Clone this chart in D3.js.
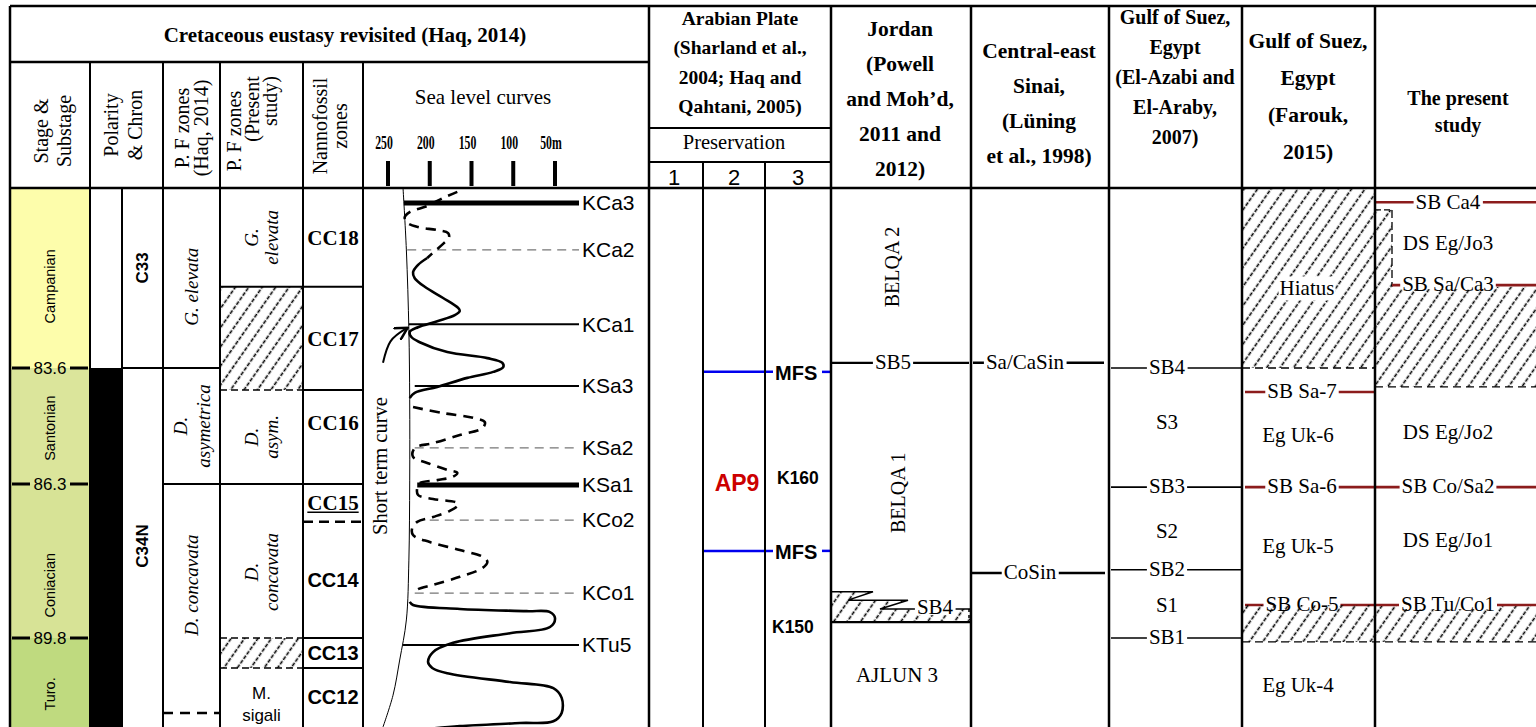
<!DOCTYPE html>
<html>
<head>
<meta charset="utf-8">
<title>Cretaceous eustasy correlation</title>
<script src="https://cdn.jsdelivr.net/npm/d3@7"></script>
<style>
  body { margin: 0; background: #fff; }
  svg { display: block; }
  text { font-family: "Liberation Serif", "Times New Roman", serif; fill: #000; }
  text.sans { font-family: "Liberation Sans", Arial, sans-serif; }
</style>
</head>
<body>
<svg id="chart"></svg>
<script>
'use strict';

// ages in Ma, sea level in metres
const ageBreaks = [79.41, 83.6, 86.3, 89.8, 91.82];
const ageTicks = [83.6, 86.3, 89.8];

const stageNames = ['Campanian', 'Santonian', 'Coniacian', 'Turo.'];
const stageBounds = [79.41, 83.6, 86.3, 89.8, 91.82];
const stageLabelAt = [81.7, 85.0, 88.6, 91.07];

const chronNames = ['C33', 'C34N'];
const chronBounds = [79.41, 83.6, 91.82];
const chronPolarity = ['R', 'N'];
const chronLabelAt = [81.27, 87.71];

const pfHaqZones = [
  { lines: ['G. elevata'], top: 79.41, base: 83.6, at: 81.71 },
  { lines: ['D.', 'asymetrica'], top: 83.6, base: 86.3 },
  { lines: ['D. concavata'], top: 86.3, base: 91.5, at: 88.6 }
];

const pfPresentZones = [
  { lines: ['G.', 'elevata'], top: 79.41, base: 81.71 },
  { hiatus: 'base', top: 81.71, base: 84.11 },
  { lines: ['D.', 'asym.'], top: 84.11, base: 86.3 },
  { lines: ['D.', 'concavata'], top: 86.3, base: 89.8, at: 88.3 },
  { hiatus: 'both', top: 89.8, base: 90.48 },
  { lines: ['M.', 'sigali'], top: 90.48, base: 91.82, upright: true, at: 91.05 }
];

const nannoZones = [
  { name: 'CC18', top: 79.41, base: 81.71 },
  { name: 'CC17', top: 81.71, base: 84.11 },
  { name: 'CC16', top: 84.11, base: 86.3, at: 84.88 },
  { name: 'CC15', top: 86.3, base: 87.16 },
  { name: 'CC14', top: 87.16, base: 89.8 },
  { name: 'CC13', top: 89.8, base: 90.48 },
  { name: 'CC12', top: 90.48, base: 91.82 }
];

const seaLevelTicks = [250, 200, 150, 100, 50];
const sbNames = ['KCa3', 'KCa2', 'KCa1', 'KSa3', 'KSa2', 'KSa1', 'KCo2', 'KCo1', 'KTu5'];
const sbAges = [79.76, 80.85, 82.58, 84.02, 85.46, 86.32, 87.12, 88.78, 89.96];
const sbRank = ['major', 'minor', 'medium', 'medium', 'minor', 'major', 'minor', 'minor', 'medium'];
const sbFrom = [231, 227, 225, 218, 218, 215, 200, 218, 232];

// short term curve [sea level m, age Ma]
const shortTermSegments = [
  { dashed: true, pts: [[167, 79.50], [184, 79.64], [203, 79.83], [224, 79.97], [230, 80.09], [227, 80.22], [214, 80.32], [191, 80.39], [178, 80.46], [177, 80.57], [184, 80.71], [194, 80.88], [203, 81.04]] },
  { dashed: false, pts: [[203, 81.04], [214, 81.20], [220, 81.37], [218, 81.51], [206, 81.71], [184, 81.97], [166, 82.20], [164, 82.27], [170, 82.37], [191, 82.51], [214, 82.65], [224, 82.76], [222, 82.88], [212, 83.00], [179, 83.23], [131, 83.37], [113, 83.48], [112, 83.58], [124, 83.69], [155, 83.83], [191, 84.04], [218, 84.18], [224, 84.30]] },
  { dashed: true, pts: [[220, 84.51], [184, 84.65], [148, 84.76], [134, 84.86], [137, 85.00], [164, 85.16], [196, 85.35], [218, 85.46], [220, 85.67], [203, 85.81], [179, 85.97], [167, 86.04], [172, 86.13], [191, 86.21], [212, 86.28], [215, 86.39], [214, 86.55], [196, 86.64], [167, 86.73], [166, 86.78], [176, 86.91], [196, 87.05], [215, 87.16], [221, 87.30], [220, 87.46], [200, 87.62], [164, 87.80], [136, 87.96], [131, 88.07], [137, 88.21], [164, 88.41], [196, 88.59], [215, 88.70], [218, 88.77]] },
  { dashed: false, pts: [[224, 88.98], [220, 89.05], [164, 89.14], [84, 89.19], [56, 89.21], [50, 89.35], [56, 89.55], [104, 89.69], [172, 89.91], [196, 90.12], [202, 90.35], [197, 90.48], [179, 90.60], [104, 90.80], [52, 90.94], [42, 91.16], [42, 91.50], [52, 91.69], [92, 91.73], [164, 91.80], [200, 91.86]] }
];
const longTermCurve = [[232, 79.41], [228, 80.85], [225, 82.72], [224, 84.34], [224, 86.21], [225, 88.03], [228, 89.39], [236, 90.30], [244, 91.10], [256, 91.82]];
const arrowPts = [[256, 83.48], [247, 82.98], [228, 82.68]];

const preservationCols = ['1', '2', '3'];
const mfsAges = [83.69, 87.82];
const apSequence = { name: 'AP9', at: 86.28 };
const kSurfaces = [{ name: 'K160', at: 86.16 }, { name: 'K150', at: 89.55 }];

const jordanUnits = [{ name: 'BELQA 2', at: 81.25, vertical: true }, { name: 'BELQA 1', at: 86.5, vertical: true }, { name: 'AJLUN 3', at: 90.64 }];
const jordanSurfaces = [{ name: 'SB5', age: 83.48 }];
const jordanHiatus = { name: 'SB4', top: 88.75, mid: 88.94, low: 89.14, base: 89.44 };

const sinaiSurfaces = [{ name: 'Sa/CaSin', age: 83.48 }, { name: 'CoSin', age: 88.32 }];

const azabiSurfaces = [{ name: 'SB4', age: 83.6 }, { name: 'SB3', age: 86.37 }, { name: 'SB2', age: 88.25 }, { name: 'SB1', age: 89.8 }];
const azabiSequences = [{ name: 'S3', at: 84.86 }, { name: 'S2', at: 87.35 }, { name: 'S1', at: 89.05 }];

const faroukHiatus = [{ top: 79.41, base: 83.6, label: 'Hiatus', at: 81.74 }];
const faroukSurfaces = [{ name: 'SB Sa-7', age: 84.16 }, { name: 'SB Sa-6', age: 86.37 }, { name: 'SB Co-5', age: 89.05 }];
const faroukUnits = [{ name: 'Eg Uk-6', at: 85.16 }, { name: 'Eg Uk-5', at: 87.69 }, { name: 'Eg Uk-4', at: 90.87 }];

const studySurfaces = [{ name: 'SB Ca4', age: 79.74 }, { name: 'SB Sa/Ca3', age: 81.67 }, { name: 'SB Co/Sa2', age: 86.37 }, { name: 'SB Tu/Co1', age: 89.05 }];
const studyUnits = [{ name: 'DS Eg/Jo3', at: 80.69 }, { name: 'DS Eg/Jo2', at: 85.09 }, { name: 'DS Eg/Jo1', at: 87.57 }];
const studyHiatus = [{ top: 79.92, base: 81.71, narrow: true }, { top: 81.71, base: 84.04 }];
const sharedHiatus = { top: 89.05, base: 89.89 };

// ---------------------------------------------------------------------------
const W = 1536, H = 727;
const C = { left: 10, stage: 90, pol: 122, chron: 163, pfHaq: 220, pfPres: 303, nanno: 363, sea: 649,
  p1: 703, p2: 765, arab: 831, jordan: 971, sinai: 1109, azabi: 1242, farouk: 1375, strip: 1392, right: 1536 };
const topY = 6, titleY = 62, headY = 188;
const red = '#8c1c1c';

const svg = d3.select('#chart').attr('width', W).attr('height', H);

const y = d3.scaleLinear().domain(ageBreaks).range([headY, 368, 484, 638, H]);
const x = d3.scaleLinear().domain([250, 50]).range([388, 555]);

const stageColor = d3.scaleOrdinal().domain(stageNames).range(['#fdfdab', '#dbe59b', '#d7e396', '#bfda7f']);

const defs = svg.append('defs');
const hatch = defs.append('pattern').attr('id', 'hatch')
  .attr('patternUnits', 'userSpaceOnUse').attr('width', 11).attr('height', 11)
  .attr('patternTransform', 'rotate(35)');
hatch.append('line').attr('x1', 5.5).attr('x2', 5.5).attr('y1', 0).attr('y2', 11)
  .attr('stroke', '#000').attr('stroke-width', 1.6).attr('stroke-dasharray', '4 1.5');
defs.append('marker').attr('id', 'arrow').attr('viewBox', '0 0 10 10')
  .attr('refX', 8).attr('refY', 5).attr('markerWidth', 7).attr('markerHeight', 7).attr('orient', 'auto')
  .append('path').attr('d', 'M0,0 L9,5 L0,10').attr('fill', 'none').attr('stroke', '#000').attr('stroke-width', 1.8);
defs.append('clipPath').attr('id', 'seaClip').append('rect')
  .attr('x', C.nanno).attr('y', headY).attr('width', C.sea - C.nanno).attr('height', H - headY);

function hline(g, x1, x2, yy, o = {}) {
  return g.append('line').attr('x1', x1).attr('x2', x2).attr('y1', yy).attr('y2', yy)
    .attr('stroke', o.color || '#000').attr('stroke-width', o.w || 2)
    .attr('stroke-dasharray', o.dash || null);
}
function vline(g, xx, y1, y2, o = {}) {
  return g.append('line').attr('x1', xx).attr('x2', xx).attr('y1', y1).attr('y2', y2)
    .attr('stroke', o.color || '#000').attr('stroke-width', o.w || 2)
    .attr('stroke-dasharray', o.dash || null);
}
function label(g, txt, xx, yy, o = {}) {
  return g.append('text').attr('x', xx).attr('y', yy).attr('dy', '0.35em')
    .attr('text-anchor', o.anchor || 'middle')
    .attr('font-size', o.size || 21)
    .attr('font-weight', o.bold ? 'bold' : null)
    .attr('font-style', o.italic ? 'italic' : null)
    .attr('class', o.sans ? 'sans' : null)
    .style('fill', o.color || null)
    .text(txt);
}
// multi-line text; (cx, first) is the centre of the first line
function lines(g, arr, cx, first, lh, o = {}) {
  const cy = first + (o.rotate ? 0 : (arr.length - 1) * lh / 2);
  const t = g.append('text').attr('text-anchor', 'middle')
    .attr('font-size', o.size || 21)
    .attr('font-weight', o.bold ? 'bold' : null)
    .attr('font-style', o.italic ? 'italic' : null)
    .attr('class', o.sans ? 'sans' : null);
  if (o.rotate) t.attr('transform', `translate(${cx},${cy}) rotate(-90)`);
  else t.attr('transform', `translate(${cx},${cy})`);
  arr.forEach((s, i) => t.append('tspan').attr('x', 0)
    .attr('y', (i - (arr.length - 1) / 2) * lh).attr('dy', '0.35em').text(s));
  return t;
}
function whiteBehind(g, t, pad, yy, half) {
  const bb = t.node().getBBox();
  g.insert('rect', () => t.node())
    .attr('x', bb.x - pad).attr('width', bb.width + 2 * pad)
    .attr('y', half ? yy - half : bb.y).attr('height', half ? 2 * half : bb.height)
    .attr('fill', '#fff');
}
function surface(g, name, x1, x2, cx, yy, o = {}) {
  hline(g, x1, x2, yy, o);
  const t = label(g, name, cx, yy - 1, { size: 21 });
  whiteBehind(g, t, 2, yy, 4);
}
function hatchBox(g, x1, x2, y1, y2) {
  g.append('rect').attr('x', x1).attr('width', x2 - x1).attr('y', y1).attr('height', y2 - y1)
    .attr('fill', 'url(#hatch)');
}

// ---- stage column
const gStage = svg.append('g');
stageNames.forEach((s, i) => {
  gStage.append('rect').attr('x', C.left + 1).attr('width', C.stage - C.left - 1)
    .attr('y', y(stageBounds[i])).attr('height', y(stageBounds[i + 1]) - y(stageBounds[i]))
    .attr('fill', stageColor(s));
  lines(gStage, [s], 50, y(stageLabelAt[i]), 0, { sans: true, size: 14.5, rotate: true });
});
ageTicks.forEach(a => {
  hline(gStage, 12, 30, y(a), { w: 3 });
  hline(gStage, 70, 88, y(a), { w: 3 });
  label(gStage, a.toFixed(1), 50, y(a), { sans: true, size: 17 });
});

// ---- polarity & chron
const gPol = svg.append('g');
chronNames.forEach((c, i) => {
  gPol.append('rect').attr('x', C.stage).attr('width', C.pol - C.stage)
    .attr('y', y(chronBounds[i])).attr('height', y(chronBounds[i + 1]) - y(chronBounds[i]))
    .attr('fill', chronPolarity[i] === 'N' ? '#000' : '#fff');
  lines(gPol, [c], 142, y(chronLabelAt[i]), 0, { sans: true, bold: true, size: 17, rotate: true });
  if (i > 0) hline(gPol, C.pol, C.chron, y(chronBounds[i]));
});

// ---- planktonic foram zones (Haq)
const gHaq = svg.append('g');
pfHaqZones.forEach((z, i) => {
  const mid = y(z.at != null ? z.at : (z.top + z.base) / 2);
  lines(gHaq, z.lines, 191.5, mid, 23, { italic: true, size: 19, rotate: true });
  const last = i === pfHaqZones.length - 1;
  hline(gHaq, C.chron, C.pfHaq, y(z.base), last ? { dash: '10 7', w: 2.5 } : {});
});

// ---- planktonic foram zones (present study)
const gPres = svg.append('g');
pfPresentZones.forEach((z, i) => {
  const next = pfPresentZones[i + 1];
  if (z.hiatus) {
    hatchBox(gPres, C.pfHaq + 1, C.pfPres - 1, y(z.top), y(z.base));
    hline(gPres, C.pfHaq, C.pfPres, y(z.base), { dash: '7 4', w: 1.5 });
    if (z.hiatus === 'both') hline(gPres, C.pfHaq, C.pfPres, y(z.top), { dash: '7 4', w: 1.5 });
    return;
  }
  const mid = y(z.at != null ? z.at : (z.top + z.base) / 2);
  if (z.upright) lines(gPres, z.lines, 261.5, mid, 22, { sans: true, size: 17, rotate: false });
  else lines(gPres, z.lines, 261.5, mid, 20, { italic: true, size: 19, rotate: true });
  if (next && next.hiatus !== 'both') hline(gPres, C.pfHaq, C.pfPres, y(z.base));
});

// ---- nannofossil zones
const gNan = svg.append('g');
nannoZones.forEach((z, i) => {
  const mid = y(z.at != null ? z.at : (z.top + z.base) / 2);
  const sans = i >= 4;
  const t = label(gNan, z.name, 333, mid, { bold: true, sans, size: sans ? 20 : 21 });
  if (z.name === 'CC15') {
    const bb = t.node().getBBox();
    hline(gNan, bb.x, bb.x + bb.width, bb.y + bb.height - 3, { w: 1.3 });
  }
  if (i < nannoZones.length - 1) {
    hline(gNan, C.pfPres, C.nanno, y(z.base), z.name === 'CC15' ? { dash: '10 6', w: 2.5 } : {});
  }
});

// ---- sea level curves
const gSea = svg.append('g');
label(gSea, 'Sea level curves', 483, 97, { size: 21 });
seaLevelTicks.forEach(v => {
  gSea.append('rect').attr('x', x(v) - 2).attr('width', 4).attr('y', 161).attr('height', 25).attr('fill', '#000');
  gSea.append('text').attr('transform', `translate(${x(v) - 4},142) scale(0.62,1)`)
    .attr('text-anchor', 'middle').attr('dy', '0.35em').attr('font-size', 19).attr('font-weight', 'bold')
    .text(v === 50 ? '50m' : String(v));
});
const gCurves = gSea.append('g').attr('clip-path', 'url(#seaClip)');
sbNames.forEach((n, i) => {
  const r = sbRank[i];
  gCurves.append('line').attr('x1', x(sbFrom[i])).attr('x2', 579)
    .attr('y1', y(sbAges[i])).attr('y2', y(sbAges[i]))
    .attr('stroke', r === 'minor' ? '#777' : '#000')
    .attr('stroke-width', r === 'major' ? 5 : r === 'medium' ? 2 : 1.3)
    .attr('stroke-dasharray', r === 'minor' ? '9 6' : null);
  label(gSea, n, 582, y(sbAges[i]), { anchor: 'start', sans: true, size: 21 });
});
const curve = d3.line().x(d => x(d[0])).y(d => y(d[1])).curve(d3.curveCatmullRom.alpha(0.5));
gCurves.append('path').datum(longTermCurve).attr('d', curve)
  .attr('fill', 'none').attr('stroke', '#000').attr('stroke-width', 1);
shortTermSegments.forEach(s => {
  gCurves.append('path').datum(s.pts).attr('d', curve)
    .attr('fill', 'none').attr('stroke', '#000').attr('stroke-width', 2.6)
    .attr('stroke-dasharray', s.dashed ? '10 7' : null);
});
gCurves.append('path').datum(arrowPts).attr('d', d3.line().x(d => x(d[0])).y(d => y(d[1])).curve(d3.curveNatural))
  .attr('fill', 'none').attr('stroke', '#000').attr('stroke-width', 2).attr('marker-end', 'url(#arrow)');
lines(gSea, ['Short term curve'], 380, 466, 0, { size: 20.5, rotate: true });

// ---- Arabian Plate
const gAp = svg.append('g');
lines(gAp, ['Arabian Plate', '(Sharland et al.,', '2004; Haq and', 'Qahtani, 2005)'], 740, 18, 29.5, { bold: true, size: 19.5 });
label(gAp, 'Preservation', 734, 142, { size: 20.5 });
[674, 734, 798].forEach((cx, i) => label(gAp, preservationCols[i], cx, 177, { sans: true, size: 22 }));
mfsAges.forEach(a => {
  hline(gAp, C.p1, 773, y(a), { color: '#0000ee', w: 2.5 });
  hline(gAp, 822, C.arab, y(a), { color: '#0000ee', w: 2.5 });
  label(gAp, 'MFS', 775, y(a) + 1, { anchor: 'start', sans: true, bold: true, size: 20 });
});
label(gAp, apSequence.name, 737, y(apSequence.at), { sans: true, bold: true, size: 23, color: '#cc0000' });
kSurfaces.forEach((k, i) => label(gAp, k.name, i === 0 ? 777 : 772, y(k.at), { anchor: 'start', sans: true, bold: true, size: 17.5 }));

// ---- Jordan
const gJo = svg.append('g');
lines(gJo, ['Jordan', '(Powell', 'and Moh\u2019d,', '2011 and', '2012)'], 900, 28, 35, { bold: true, size: 21.5 });
jordanUnits.forEach(u => {
  if (u.vertical) lines(gJo, [u.name], u.name === 'BELQA 2' ? 892 : 898, y(u.at), 0, { size: 20, rotate: true });
  else label(gJo, u.name, 897, y(u.at), { size: 21 });
});
jordanSurfaces.forEach(s => surface(gJo, s.name, C.arab, 969, 893, y(s.age), { w: 2.2 }));
{
  const h = jordanHiatus;
  const pts = [[C.arab, y(h.top)], [873, y(h.top)], [848, y(h.mid)], [908, y(h.mid)], [880, y(h.low)],
    [970, y(h.low)], [970, y(h.base)], [C.arab, y(h.base)]];
  gJo.append('polygon').attr('points', pts.map(p => p.join(',')).join(' ')).attr('fill', 'url(#hatch)');
  gJo.append('polyline').attr('points', pts.slice(0, 6).map(p => p.join(',')).join(' '))
    .attr('fill', 'none').attr('stroke', '#000').attr('stroke-width', 1.5);
  vline(gJo, 969, y(h.low), y(h.base), { dash: '3 3', w: 1.5 });
  hline(gJo, C.arab, C.jordan, y(h.base), { w: 2.2 });
  const t = label(gJo, h.name, 935, y(h.low) - 2, { size: 21 });
  whiteBehind(gJo, t, 2, y(h.low), 6);
}

// ---- Central-east Sinai
const gSi = svg.append('g');
lines(gSi, ['Central-east', 'Sinai,', '(L\u00fcning', 'et al., 1998)'], 1039, 50, 35, { bold: true, size: 21.5 });
surface(gSi, sinaiSurfaces[0].name, 973, 1104, 1025, y(sinaiSurfaces[0].age), { w: 2.5 });
surface(gSi, sinaiSurfaces[1].name, C.jordan, 1105, 1030, y(sinaiSurfaces[1].age), { w: 2.5 });

// ---- Gulf of Suez (El-Azabi and El-Araby)
const gAz = svg.append('g');
lines(gAz, ['Gulf of Suez,', 'Egypt', '(El-Azabi and', 'El-Araby,', '2007)'], 1175, 17, 30, { bold: true, size: 20 });
azabiSurfaces.forEach(s => surface(gAz, s.name, 1111, 1241, 1167, y(s.age), { w: 1.6 }));
azabiSequences.forEach(s => label(gAz, s.name, 1167, y(s.at), { size: 21 }));

// ---- Gulf of Suez (Farouk)
const gFa = svg.append('g');
lines(gFa, ['Gulf of Suez,', 'Egypt', '(Farouk,', '2015)'], 1308, 40, 37, { bold: true, size: 21.5 });
faroukHiatus.forEach(h => {
  hatchBox(gFa, C.azabi + 1, C.farouk - 1, y(h.top), y(h.base));
  hline(gFa, C.azabi, C.farouk, y(h.base), { dash: '8 5', w: 1.3 });
  const t = label(gFa, h.label, 1307, y(h.at), { size: 21 });
  whiteBehind(gFa, t, 1, 0, 0);
});
faroukUnits.forEach(u => label(gFa, u.name, 1298, y(u.at), { size: 21 }));

// ---- present study
const gSt = svg.append('g');
lines(gSt, ['The present', 'study'], 1458, 98, 27, { bold: true, size: 20 });
studyHiatus.forEach(h => {
  if (h.narrow) {
    hatchBox(gSt, C.farouk + 1, C.strip, y(h.top), y(h.base));
    vline(gSt, C.strip, y(h.top), y(h.base), { dash: '8 4', w: 1.3 });
    hline(gSt, C.farouk, C.strip, y(h.top), { dash: '6 3', w: 1.3 });
  } else {
    hatchBox(gSt, C.farouk + 1, C.right, y(h.top), y(h.base));
    hline(gSt, C.farouk, C.right, y(h.base), { dash: '8 5', w: 1.3 });
  }
});
hatchBox(gSt, C.azabi + 1, C.right, y(sharedHiatus.top), y(sharedHiatus.base));
hline(gSt, C.azabi, C.right, y(sharedHiatus.base), { dash: '8 5', w: 1.3 });
faroukSurfaces.forEach(s => surface(gFa, s.name, 1245, C.farouk, 1302, y(s.age), { color: red, w: 2.6 }));
const strip = studyHiatus.find(h => h.narrow);
studySurfaces.forEach(s => {
  const fromStrip = s.age > strip.top && s.age <= strip.base;
  surface(gSt, s.name, fromStrip ? C.strip : C.farouk, C.right, 1448, y(s.age), { color: red, w: 2.6 });
});
studyUnits.forEach(u => label(gSt, u.name, 1448, y(u.at), { size: 21 }));

// ---- headers and frame
const gHead = svg.append('g');
label(gHead, 'Cretaceous eustasy revisited (Haq, 2014)', 345, 35, { bold: true, size: 21 });
lines(gHead, ['Stage &', 'Substage'], 52, 131, 23, { size: 20, rotate: true });
lines(gHead, ['Polarity', '& Chron'], 123, 125, 24, { size: 20, rotate: true });
lines(gHead, ['P. F zones', '(Haq, 2014)'], 191, 128, 19, { size: 20, rotate: true });
lines(gHead, ['P. F zones'], 234, 131, 0, { size: 20, rotate: true });
lines(gHead, ['(Present'], 252, 109, 0, { size: 20, rotate: true });
lines(gHead, ['study)'], 270, 101, 0, { size: 20, rotate: true });
lines(gHead, ['Nannofossil', 'zones'], 330, 126, 20, { size: 20, rotate: true });

const gFrame = svg.append('g');
hline(gFrame, C.left, C.right, topY, { w: 2.5 });
hline(gFrame, C.left, C.sea, titleY, { w: 2.5 });
hline(gFrame, C.left, C.right, headY, { w: 2.5 });
hline(gFrame, C.sea, C.arab, 128);
hline(gFrame, C.sea, C.arab, 162);
vline(gFrame, C.left, topY, H, { w: 2.5 });
[C.stage, C.chron, C.pfHaq, C.pfPres, C.nanno].forEach(v => vline(gFrame, v, titleY, H));
[C.sea, C.arab, C.jordan, C.sinai, C.azabi, C.farouk].forEach(v => vline(gFrame, v, topY, H, { w: 2.5 }));
vline(gFrame, C.pol, headY, H);
[C.p1, C.p2].forEach(v => vline(gFrame, v, 162, H));
</script>
</body>
</html>
